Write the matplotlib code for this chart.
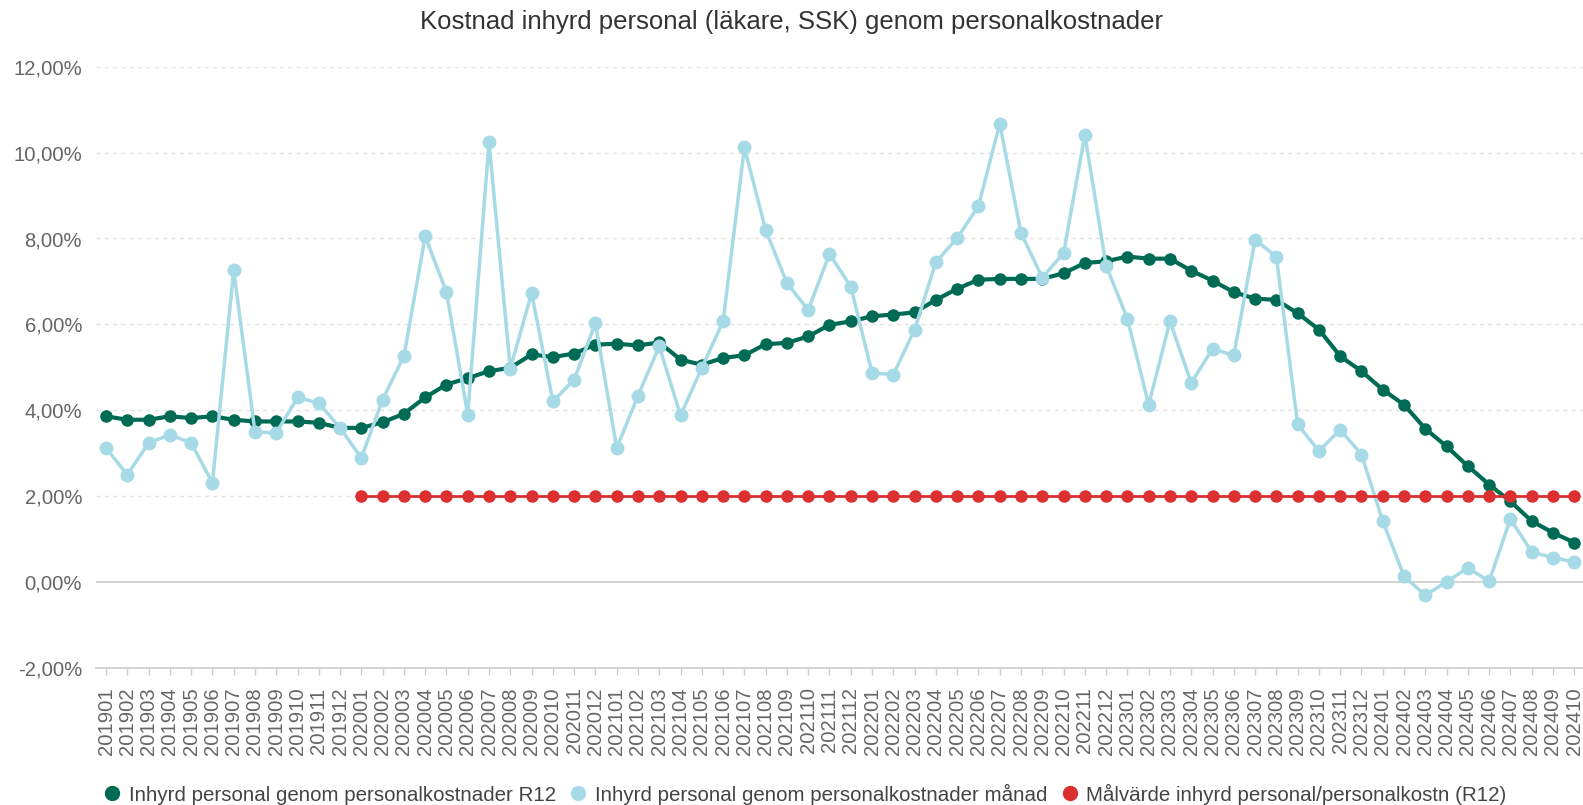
import numpy as np
import matplotlib
matplotlib.use("Agg")
import matplotlib.pyplot as plt
from matplotlib.lines import Line2D

plt.rcParams['font.family'] = ['Liberation Sans', 'DejaVu Sans']

months = [
    "201901", "201902", "201903", "201904", "201905", "201906", "201907", "201908", "201909", "201910", "201911", "201912",
    "202001", "202002", "202003", "202004", "202005", "202006", "202007", "202008", "202009", "202010", "202011", "202012",
    "202101", "202102", "202103", "202104", "202105", "202106", "202107", "202108", "202109", "202110", "202111", "202112",
    "202201", "202202", "202203", "202204", "202205", "202206", "202207", "202208", "202209", "202210", "202211", "202212",
    "202301", "202302", "202303", "202304", "202305", "202306", "202307", "202308", "202309", "202310", "202311", "202312",
    "202401", "202402", "202403", "202404", "202405", "202406", "202407", "202408", "202409", "202410",
]

# procent
r12 = [
    3.86, 3.78, 3.78, 3.86, 3.82, 3.86, 3.78, 3.74, 3.74, 3.74, 3.71, 3.59,
    3.59, 3.72, 3.92, 4.30, 4.60, 4.75, 4.91, 4.99, 5.30, 5.24, 5.32, 5.53,
    5.55, 5.51, 5.58, 5.18, 5.06, 5.22, 5.28, 5.54, 5.57, 5.72, 5.99, 6.07,
    6.19, 6.23, 6.28, 6.57, 6.83, 7.04, 7.06, 7.06, 7.06, 7.19, 7.43, 7.47,
    7.58, 7.53, 7.53, 7.25, 7.02, 6.75, 6.60, 6.57, 6.26, 5.88, 5.26, 4.91,
    4.48, 4.13, 3.57, 3.16, 2.70, 2.27, 1.88, 1.42, 1.15, 0.92,
]

manad = [
    3.12, 2.50, 3.24, 3.43, 3.24, 2.31, 7.26, 3.50, 3.47, 4.30, 4.17, 3.59,
    2.89, 4.25, 5.26, 8.05, 6.75, 3.90, 10.24, 4.97, 6.73, 4.21, 4.71, 6.03,
    3.12, 4.34, 5.49, 3.88, 4.99, 6.07, 10.12, 8.20, 6.96, 6.34, 7.64, 6.88,
    4.87, 4.83, 5.88, 7.45, 8.01, 8.76, 10.67, 8.13, 7.09, 7.66, 10.41, 7.37,
    6.13, 4.13, 6.07, 4.64, 5.43, 5.28, 7.97, 7.58, 3.67, 3.05, 3.55, 2.97,
    1.42, 0.14, -0.31, 0.01, 0.33, 0.02, 1.47, 0.70, 0.57, 0.47,
]

nan = np.nan
malvarde = [
    nan, nan, nan, nan, nan, nan, nan, nan, nan, nan, nan, nan,
    2.0, 2.0, 2.0, 2.0, 2.0, 2.0, 2.0, 2.0, 2.0, 2.0, 2.0, 2.0,
    2.0, 2.0, 2.0, 2.0, 2.0, 2.0, 2.0, 2.0, 2.0, 2.0, 2.0, 2.0,
    2.0, 2.0, 2.0, 2.0, 2.0, 2.0, 2.0, 2.0, 2.0, 2.0, 2.0, 2.0,
    2.0, 2.0, 2.0, 2.0, 2.0, 2.0, 2.0, 2.0, 2.0, 2.0, 2.0, 2.0,
    2.0, 2.0, 2.0, 2.0, 2.0, 2.0, 2.0, 2.0, 2.0, 2.0,
]

namn = [
    "Inhyrd personal genom personalkostnader R12",
    "Inhyrd personal genom personalkostnader månad",
    "Målvärde inhyrd personal/personalkostn (R12)",
]
farger = ["#006b54", "#a6dae6", "#dc2f2f"]
yticks = [-2, 0, 2, 4, 6, 8, 10, 12]

fig = plt.figure(figsize=(15.83, 8.05), dpi=100)
ax = fig.add_axes([96 / 1583, 1 - 668 / 805, 1 - 96 / 1583, (668 - 66.7) / 805])

x = np.arange(len(months))
ax.plot(x, r12, color=farger[0], lw=3, marker='o', ms=8, zorder=3)
ax.plot(x, manad, color=farger[1], lw=2.5, marker='o', ms=9, zorder=4)
ax.plot(x, malvarde, color=farger[2], lw=2, marker='o', ms=8, zorder=5)

ax.set_xlim(-0.47, len(months) - 1 + 0.41)
ax.set_ylim(-2, 12)
ax.set_yticks(yticks)
ax.set_yticklabels([f"{v:.2f}".replace('.', ',') + "%" for v in yticks])
ax.set_xticks(x)
ax.set_xticklabels(months)

for v in yticks:
    if v == 0:
        ax.axhline(v, color="#cccccc", lw=1.2, zorder=1)
    elif v != -2:
        ax.axhline(v, color="#e3e3e3", lw=1, ls=(0, (3, 3)), zorder=1)

for s in ['top', 'right', 'left']:
    ax.spines[s].set_visible(False)
ax.spines['bottom'].set_color("#cccccc")
ax.spines['bottom'].set_linewidth(1.2)
ax.spines['bottom'].set_position(('data', -2))

ax.tick_params(axis='y', length=0, pad=10, labelsize=14.6, labelcolor="#666666")
ax.tick_params(axis='x', length=5, width=1, color="#cccccc", pad=9, labelsize=14.6,
               labelcolor="#666666", labelrotation=90)

fig.text(0.5, 1 - 22 / 805, "Kostnad inhyrd personal (läkare, SSK) genom personalkostnader",
         ha='center', va='center', fontsize=18.5, color="#333333")

handles = [Line2D([], [], ls='none', marker='o', ms=10, color=c) for c in farger]
fig.legend(handles, namn, loc='center', bbox_to_anchor=(0.508, 11 / 805), ncol=3, frameon=False,
           fontsize=14.8, labelcolor="#444444", handletextpad=0.3, columnspacing=0.6, handlelength=1.0)

fig.savefig("out.png", dpi=100)
